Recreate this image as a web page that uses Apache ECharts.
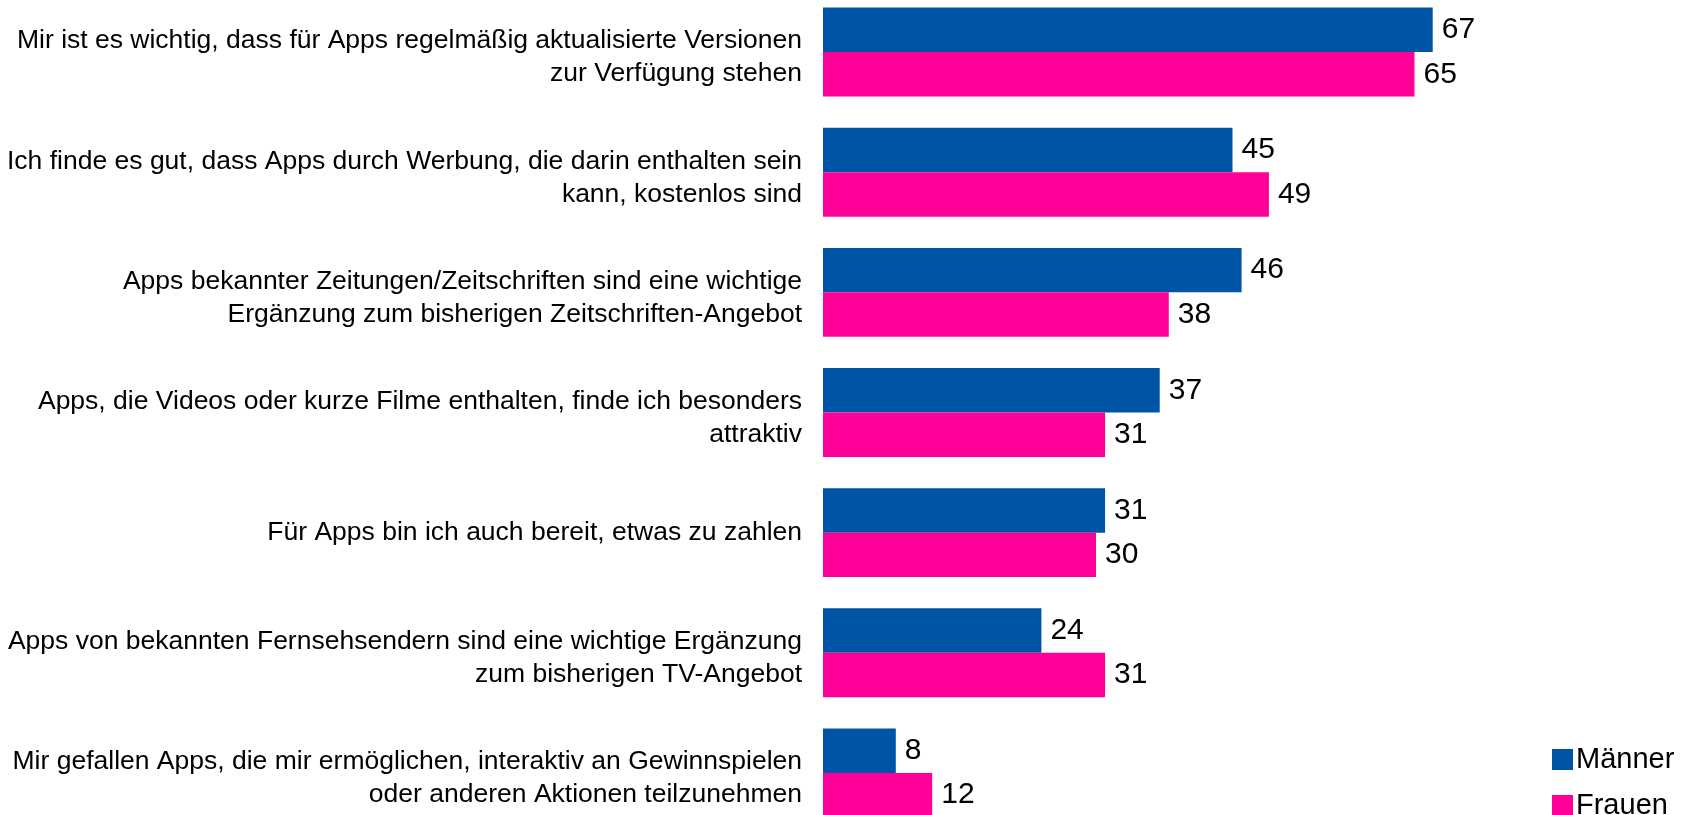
<!DOCTYPE html>
<html>
<head>
<meta charset="utf-8">
<script src="https://cdn.jsdelivr.net/npm/echarts@6/dist/echarts.min.js"></script>
<style>
  html, body { margin: 0; padding: 0; background: #fff; }
  #chart { width: 1699px; height: 815px; }
</style>
</head>
<body>
<div id="chart"></div>
<script>
const categories = [
  "Mir ist es wichtig, dass für Apps regelmäßig aktualisierte Versionen\nzur Verfügung stehen",
  "Ich finde es gut, dass Apps durch Werbung, die darin enthalten sein\nkann, kostenlos sind",
  "Apps bekannter Zeitungen/Zeitschriften sind eine wichtige\nErgänzung zum bisherigen Zeitschriften-Angebot",
  "Apps, die Videos oder kurze Filme enthalten, finde ich besonders\nattraktiv",
  "Für Apps bin ich auch bereit, etwas zu zahlen",
  "Apps von bekannten Fernsehsendern sind eine wichtige Ergänzung\nzum bisherigen TV-Angebot",
  "Mir gefallen Apps, die mir ermöglichen, interaktiv an Gewinnspielen\noder anderen Aktionen teilzunehmen"
];
const seriesNames = ["Männer", "Frauen"];
const maennerValues = [67, 45, 46, 37, 31, 24, 8];
const frauenValues = [65, 49, 38, 31, 30, 31, 12];

const FONT = "'Liberation Sans', Arial, sans-serif";
const chart = echarts.init(document.getElementById('chart'));
chart.setOption({
  animation: false,
  backgroundColor: '#ffffff',
  textStyle: { fontFamily: FONT },
  grid: { left: 823, top: -8, width: 910, height: 841, containLabel: false, outerBoundsMode: 'none' },
  xAxis: { type: 'value', min: 0, max: 100, show: false },
  yAxis: {
    type: 'category',
    inverse: true,
    data: categories,
    axisLine: { show: false },
    axisTick: { show: false },
    splitLine: { show: false },
    axisLabel: {
      margin: 21,
      color: '#000',
      fontSize: 26.5,
      fontFamily: FONT,
      align: 'right',
      formatter: function (v) {
        const parts = v.split('\n');
        if (parts.length === 1) return '{b|' + v + '}';
        return '{s| }\n' + parts.map(function (p) { return '{b|' + p + '}'; }).join('\n');
      },
      rich: {
        s: { fontSize: 8, height: 11, color: '#000', fontFamily: FONT },
        b: { fontSize: 26.5, height: 33, color: '#000', fontFamily: FONT }
      }
    }
  },
  legend: {
    orient: 'vertical',
    left: 1552,
    top: 745,
    height: 150,
    padding: 0,
    itemWidth: 21,
    itemHeight: 21,
    itemGap: 17,
    icon: 'rect',
    textStyle: { fontSize: 29, lineHeight: 29, color: '#000', fontFamily: FONT, padding: [0, 0, 0, -2] },
    data: seriesNames
  },
  series: [
    {
      name: seriesNames[0],
      type: 'bar',
      data: maennerValues,
      barGap: '0%',
      barCategoryGap: '26%',
      itemStyle: { color: '#0054A6' },
      label: { show: true, position: 'right', distance: 9, fontSize: 30, color: '#000', fontFamily: FONT }
    },
    {
      name: seriesNames[1],
      type: 'bar',
      data: frauenValues,
      barGap: '0%',
      barCategoryGap: '26%',
      itemStyle: { color: '#FF0099' },
      label: { show: true, position: 'right', distance: 9, fontSize: 30, color: '#000', fontFamily: FONT }
    }
  ]
});
</script>
</body>
</html>
